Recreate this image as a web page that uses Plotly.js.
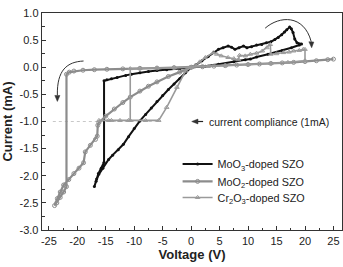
<!DOCTYPE html>
<html>
<head>
<meta charset="utf-8">
<script src="https://cdn.plot.ly/plotly-3.0.1.min.js"></script>
<style>
  html, body { margin: 0; padding: 0; background: #fff; }
  #chart { width: 343px; height: 267px; }
</style>
</head>
<body>
<div id="chart"></div>
<script>
// I-V sweeps of doped SZO memory cells (voltage in V, current in mA)

// MoO3-doped SZO: positive set/reset loop, then negative sweep with jump
const moo3V = [0, 0.8, 1.9, 3, 4, 4.8, 5.6, 6.5, 7.1, 7.7, 8.4, 9.2, 9.8, 10.6, 11.5, 12.4, 13.2, 14, 14.7, 15.3, 15.9, 16.4, 16.8, 17.3, 17.6, 17.9, 18.2,
  18.6, 19.4, 19, 17.6, 16, 13.5, 11.5, 10.4, 9.5, 7.5, 4.8, 2.5, 0,
  -0.7, -2, -4.3, -6, -7.5, -9, -10.5, -11.5, -13, -14, -14.8, -15.3,
  -15.3, -15.8, -16.3, -16.6, -17,
  -16.7, -16.2, -15.5, -14.5, -13.8, -12.8, -11.9, -11, -10, -9, -8, -7, -6, -5, -4, -3, -2, -1, 0];
const moo3I = [0, 0.04, 0.12, 0.2, 0.27, 0.33, 0.36, 0.39, 0.37, 0.33, 0.36, 0.39, 0.36, 0.38, 0.41, 0.42, 0.45, 0.47, 0.51, 0.55, 0.6, 0.65, 0.69, 0.74, 0.71, 0.64, 0.52,
  0.45, 0.43, 0.41, 0.36, 0.31, 0.24, 0.19, 0.15, 0.14, 0.1, 0.055, 0.02, 0,
  -0.015, -0.025, -0.045, -0.06, -0.08, -0.1, -0.13, -0.15, -0.19, -0.21, -0.23, -0.25,
  -1.75, -1.86, -1.96, -2.06, -2.2,
  -2.1, -1.97, -1.86, -1.7, -1.62, -1.52, -1.42, -1.28, -1.13, -0.99, -0.87, -0.75, -0.63, -0.52, -0.41, -0.31, -0.21, -0.1, 0];

// MoO2-doped SZO: high-resistance branch, set at -22 V, low-resistance return
const moo2V = [25, 24, 22, 20, 18, 16, 14, 12, 10, 8, 6, 4, 2, 0,
  -3, -6, -9, -12, -14.8, -17, -19, -20.6, -21.4, -21.9,
  -21.9, -22.4, -23, -23.6, -24,
  -23.5, -23, -22.4, -21.5, -20.6, -19.7, -18.9, -18.6, -17.7, -16.8, -16.5, -16.4, -16.2,
  -15, -13.5, -12, -10.7, -9, -7.5, -6, -4, -2, 0];
const moo2I = [0.15, 0.14, 0.12, 0.105, 0.09, 0.08, 0.07, 0.06, 0.05, 0.04, 0.03, 0.02, 0.01, 0,
  -0.008, -0.015, -0.02, -0.03, -0.037, -0.045, -0.055, -0.07, -0.09, -0.13,
  -2.2, -2.3, -2.4, -2.5, -2.55,
  -2.42, -2.3, -2.17, -2.07, -1.96, -1.86, -1.76, -1.56, -1.44, -1.33, -1.27, -1.07, -1.02,
  -0.9, -0.77, -0.65, -0.55, -0.44, -0.35, -0.27, -0.17, -0.09, 0];

// Cr2O3-doped SZO: stepwise positive branch, negative set held at compliance
const cr2o3V = [0, 0.7, 1.5, 2.5, 3.9, 4.5, 5.3, 6.5, 7.5, 8.3, 8.5, 9.5, 10.4, 11.5, 12.5, 13.3, 13.9,
  14, 15, 16.2, 17.2, 18, 19, 19.7, 20, 20, 17, 14, 10, 6, 3, 0,
  -3, -6, -9, -10.7, -10.7, -12.5, -14.5, -16.2, -14, -11, -8, -5.7, -4.3, -2.5, -1, 0];
const cr2o3I = [0, 0.03, 0.1, 0.18, 0.27, 0.24, 0.21, 0.18, 0.16, 0.14, 0.22, 0.21, 0.24, 0.26, 0.3, 0.36, 0.42,
  0.24, 0.25, 0.27, 0.28, 0.3, 0.31, 0.33, 0.33, 0.12, 0.09, 0.07, 0.05, 0.03, 0.015, 0,
  -0.008, -0.015, -0.02, -0.025, -0.98, -0.98, -0.98, -0.98, -0.98, -0.98, -0.98, -0.98, -0.74, -0.37, -0.07, 0];

const seriesNames = ['MoO<sub>3</sub>-doped SZO', 'MoO<sub>2</sub>-doped SZO', 'Cr<sub>2</sub>O<sub>3</sub>-doped SZO'];
const complianceLevel = -1.0;   // mA
const complianceText = 'current compliance (1mA)';

const xTicks = [-25, -20, -15, -10, -5, 0, 5, 10, 15, 20, 25];
const yTicks = [-3.0, -2.5, -2.0, -1.5, -1.0, -0.5, 0.0, 0.5, 1.0];

const FONT = 'Liberation Sans, Arial, sans-serif';

const traces = [
  {
    x: moo3V, y: moo3I, name: seriesNames[0], type: 'scatter', mode: 'lines+markers', legend: 'legend',
    line: { color: '#111', width: 2 },
    marker: { symbol: 'circle', size: 3, color: '#111' }
  },
  {
    x: moo2V, y: moo2I, name: seriesNames[1], type: 'scatter', mode: 'lines+markers', legend: 'legend2',
    line: { color: '#8c8c8c', width: 2.2 },
    marker: { symbol: 'circle-open', size: 4, color: '#8c8c8c', line: { width: 1 } }
  },
  {
    x: cr2o3V, y: cr2o3I, name: seriesNames[2], type: 'scatter', mode: 'lines+markers', legend: 'legend3',
    line: { color: '#9a9a9a', width: 1.6 },
    marker: { symbol: 'triangle-up-open', size: 4, color: '#9a9a9a', line: { width: 1 } }
  }
];

// one single-entry legend per series keeps the rows tightly stacked
function legendAt(yPaper) {
  return {
    x: 0.452, y: yPaper, xanchor: 'left', yanchor: 'middle',
    bgcolor: 'rgba(0,0,0,0)', borderwidth: 0,
    font: { family: FONT, size: 10.8, color: '#222' },
    tracegroupgap: 0, itemwidth: 30
  };
}

// filled arrowhead drawn as a closed path in data coordinates
function head(tip, b1, b2) {
  return {
    type: 'path', xref: 'x', yref: 'y',
    path: `M ${tip[0]},${tip[1]} L ${b1[0]},${b1[1]} L ${b2[0]},${b2[1]} Z`,
    fillcolor: '#333', line: { color: '#333', width: 0.5 }
  };
}

const layout = {
  width: 343, height: 267,
  margin: { l: 42, r: 1, t: 13, b: 37 },
  paper_bgcolor: '#fff', plot_bgcolor: '#fff',
  font: { family: FONT, size: 11, color: '#222' },
  showlegend: true,
  legend: legendAt(0.304),
  legend2: legendAt(0.224),
  legend3: legendAt(0.15),
  xaxis: {
    range: [-26.2, 26.5], tickvals: xTicks, ticktext: xTicks.map(String),
    ticks: 'inside', ticklen: 4, tickwidth: 1, tickcolor: '#333',
    minor: { ticks: 'inside', ticklen: 2.5, dtick: 2.5, tick0: 0, tickcolor: '#333' },
    showline: true, mirror: true, linecolor: '#333', linewidth: 1.3,
    showgrid: false, zeroline: false,
    tickfont: { size: 11, color: '#222' },
    title: { text: '<b>Voltage (V)</b>', font: { size: 13, color: '#222' }, standoff: 4 }
  },
  yaxis: {
    range: [-3, 1], tickvals: yTicks, ticktext: yTicks.map(v => v.toFixed(1)),
    ticks: 'inside', ticklen: 4, tickwidth: 1, tickcolor: '#333',
    minor: { ticks: 'inside', ticklen: 2.5, dtick: 0.25, tick0: 0, tickcolor: '#333' },
    showline: true, mirror: true, linecolor: '#333', linewidth: 1.3,
    showgrid: false, zeroline: false,
    tickfont: { size: 11, color: '#222' },
    title: { text: '<b>Current (mA)</b>', font: { size: 13, color: '#222' }, standoff: 4 }
  },
  shapes: [
    // compliance guide line
    { type: 'line', xref: 'x', yref: 'y', x0: -24.3, x1: -5.7, y0: complianceLevel, y1: complianceLevel,
      line: { color: '#c8c8c8', width: 1, dash: 'dot' }, layer: 'below' },
    // sweep-direction arcs with their heads
    { type: 'path', xref: 'x', yref: 'y', path: 'M -18.9,0.115 C -21.8,0.1 -23.6,-0.05 -23.5,-0.52',
      line: { color: '#333', width: 1 } },
    head([-23.5, -0.63], [-23.95, -0.52], [-23.05, -0.52]),
    { type: 'path', xref: 'x', yref: 'y', path: 'M 13,0.72 C 15.5,0.95 19.8,0.98 21.1,0.47',
      line: { color: '#333', width: 1 } },
    head([21.17, 0.36], [20.68, 0.47], [21.55, 0.465]),
    // pointer to the compliance level
    { type: 'line', xref: 'x', yref: 'y', x0: 1.0, x1: 2.1, y0: complianceLevel, y1: complianceLevel,
      line: { color: '#222', width: 1.2 } },
    head([0.1, complianceLevel], [1.2, complianceLevel + 0.045], [1.2, complianceLevel - 0.045])
  ],
  annotations: [
    { xref: 'x', yref: 'y', x: 2.8, y: complianceLevel, xanchor: 'left', yanchor: 'middle',
      text: complianceText, showarrow: false, font: { family: FONT, size: 10.5, color: '#222' } }
  ]
};

Plotly.newPlot('chart', traces, layout, { staticPlot: true, displayModeBar: false });
</script>
</body>
</html>
